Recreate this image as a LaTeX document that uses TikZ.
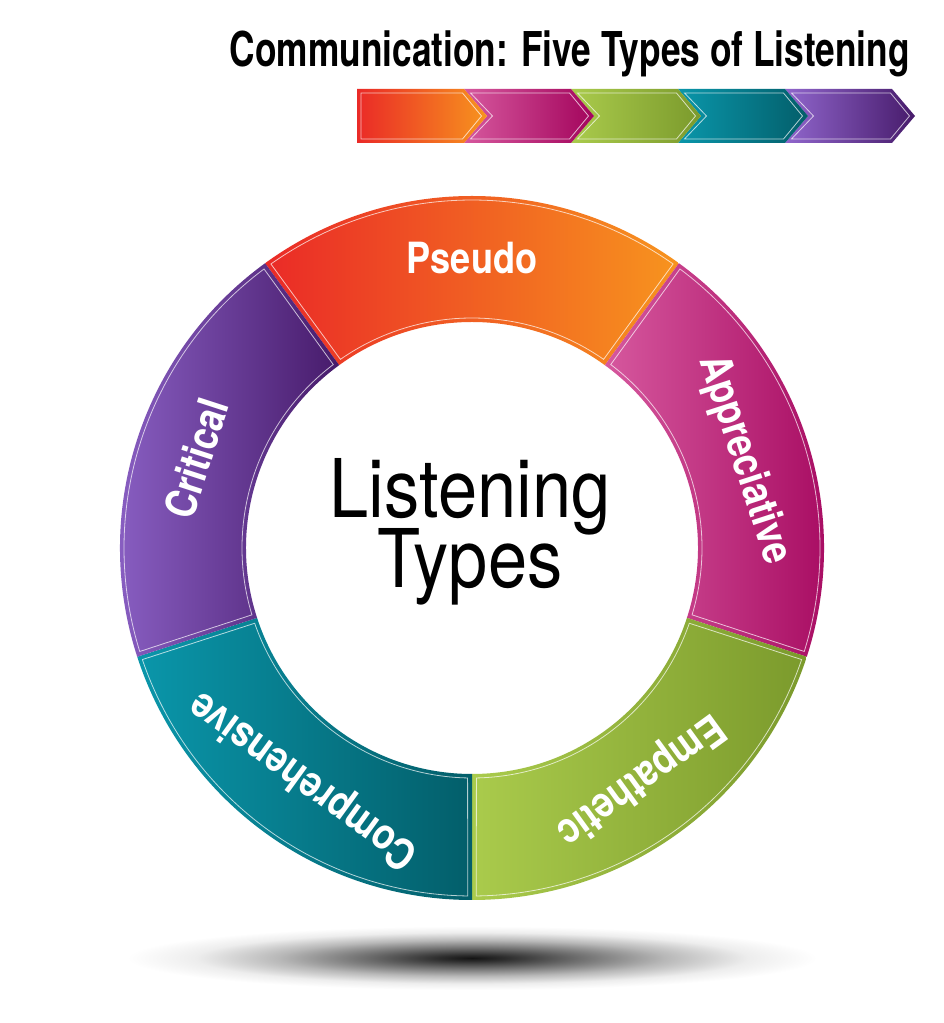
\documentclass[tikz,border=0pt]{standalone}
\usepackage{fontspec}
\newfontfamily\titlefont{TeX Gyre Heros}[FakeStretch=0.735]
\newfontfamily\labelfont{TeX Gyre Heros}[FakeStretch=0.84]
\newfontfamily\centerfont{TeX Gyre Heros}[FakeStretch=0.87]
\definecolor{psA}{HTML}{EA2A27}\definecolor{psB}{HTML}{F7941E}
\definecolor{apA}{HTML}{D6589E}\definecolor{apB}{HTML}{A3045C}
\definecolor{emA}{HTML}{AACB4C}\definecolor{emB}{HTML}{7B9A2C}
\definecolor{coA}{HTML}{0A96AA}\definecolor{coB}{HTML}{035E6A}
\definecolor{crA}{HTML}{9066CC}\definecolor{crB}{HTML}{471B6B}
\pgfdeclareradialshading{floorshadow}{\pgfpoint{0bp}{0bp}}{color(0bp)=(black!92); color(2.5bp)=(black!82); color(7.5bp)=(black!58); color(14bp)=(black!28); color(20bp)=(black!7); color(25bp)=(white); color(50bp)=(white)}
\begin{document}
\begin{tikzpicture}[x=1pt,y=1pt,
  inset/.style={draw=white, draw opacity=0.7, line width=0.8pt, line join=miter},
  lbl/.style={font=\labelfont\bfseries\fontsize{43}{43}\selectfont, text=white, inner sep=0pt, text height=31pt, text depth=0pt, anchor=center},
  ctr/.style={font=\centerfont\fontsize{81}{81}\selectfont, text=black, inner sep=0pt, anchor=base}]
\fill[white] (0,0) rectangle (944,1023);
\useasboundingbox (0,0) rectangle (944,1023);

% title
\node[font=\titlefont\bfseries\fontsize{48}{48}\selectfont, inner sep=0pt, anchor=base east] (title) at (910,956) {Communication: Five Types of Listening};

% chevron bar
\newcommand\chevron[3]{%
  \begin{scope}[shift={(#1,0)}]
    \path[left color=#2, right color=#3] (0,934) -- (107,934) -- (130,907) -- (107,880) -- (0,880) -- (23,907) -- cycle;
    \draw[inset] (6.5,930) -- (105.5,930) -- (124.5,907) -- (105.5,884) -- (6.5,884) -- (28.5,907) -- cycle;
  \end{scope}}
\chevron{785}{crA}{crB}
\chevron{678}{coA}{coB}
\chevron{571}{emA}{emB}
\chevron{464}{apA}{apB}
\begin{scope}[shift={(357,0)}]
  \path[left color=psA, right color=psB] (0,934) -- (107,934) -- (130,907) -- (107,880) -- (0,880) -- cycle;
  \draw[inset] (4,930) -- (105.5,930) -- (124.5,907) -- (105.5,884) -- (4,884) -- cycle;
\end{scope}

% ring
\newcommand\ringseg[4]{%
  \path[left color=#3, right color=#4, shift={(472,475)}] (#1:352) arc[start angle=#1, end angle=#2, radius=352] -- (#2:226) arc[start angle=#2, end angle=#1, radius=226] -- cycle;
  \draw[inset, shift={(472,475)}] (#1+0.7:348) arc[start angle=#1+0.7, end angle=#2-0.7, radius=348] -- (#2-1.1:230) arc[start angle=#2-1.1, end angle=#1+1.1, radius=230] -- cycle;}
\ringseg{54}{126}{psA}{psB}
\ringseg{-18}{54}{apA}{apB}
\ringseg{-90}{-18}{emA}{emB}
\ringseg{198}{270}{coA}{coB}
\ringseg{126}{198}{crA}{crB}

\begin{scope}[shift={(472,475)}]
  \node[lbl, rotate=0] (pseudo) at (90:290) {Pseudo};
  \node[lbl, rotate=-72] (appr) at (18:290) {Appreciative};
  \node[lbl, rotate=-144] (emp) at (-54:290) {Empathetic};
  \node[lbl, rotate=144] (comp) at (234:290) {Comprehensive};
  \node[lbl, rotate=72] (crit) at (162:290) {Critical};
\end{scope}

% centre text
\node[ctr] (listening) at (470,505) {Listening};
\node[ctr] (types) at (470,435) {Types};

% floor shadow
\shade[shading=floorshadow] (472,65) ellipse[x radius=345, y radius=32];
\end{tikzpicture}
\end{document}
